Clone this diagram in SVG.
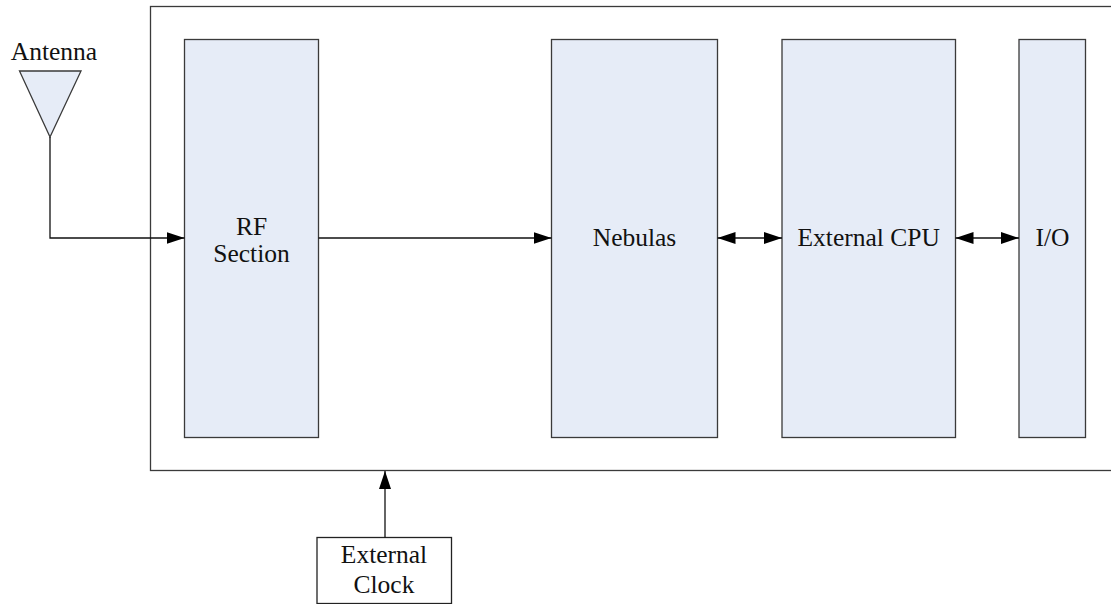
<svg xmlns="http://www.w3.org/2000/svg" width="1111" height="604" viewBox="0 0 1111 604">
<style>
.box{fill:#E6ECF7;stroke:#3a3a3a;stroke-width:1.3}
.frame{fill:#fff;stroke:#3a3a3a;stroke-width:1.3}
.wbox{fill:#fff;stroke:#222;stroke-width:1.3}
.lbl{font-family:"Liberation Serif","Times New Roman",serif;font-size:25.5px;fill:#111;text-anchor:middle}
.ln{fill:none;stroke:#111;stroke-width:1.3}
</style>
<defs>
<marker id="ah" markerUnits="userSpaceOnUse" markerWidth="20" markerHeight="14" refX="18" refY="6" orient="auto-start-reverse">
<path d="M0,0 L18,6 L0,12 Z" fill="#000"/>
</marker>
</defs>
<rect id="frame" class="frame" x="150.5" y="6.5" width="1000" height="464"/>
<g id="antenna">
<polygon points="19.5,71 81,71 50,137" class="box"/>
<text class="lbl" x="54" y="60">Antenna</text>
</g>
<g id="rf">
<rect class="box" x="184.5" y="39.5" width="134" height="398"/>
<text class="lbl" x="251.5" y="235">RF</text>
<text class="lbl" x="251.5" y="262">Section</text>
</g>
<g id="nebulas">
<rect class="box" x="551.5" y="39.5" width="166" height="398"/>
<text class="lbl" x="634.5" y="246">Nebulas</text>
</g>
<g id="cpu">
<rect class="box" x="782" y="39.5" width="173.5" height="398"/>
<text class="lbl" x="868.7" y="246">External CPU</text>
</g>
<g id="io">
<rect class="box" x="1019" y="39.5" width="66.5" height="398"/>
<text class="lbl" x="1052.5" y="246">I/O</text>
</g>
<g id="clock">
<rect class="wbox" x="317" y="537.5" width="134.5" height="66"/>
<text class="lbl" x="384" y="563">External</text>
<text class="lbl" x="384" y="593">Clock</text>
</g>
<g id="connectors">
<polyline class="ln" points="50,137 50,238 184.5,238" marker-end="url(#ah)"/>
<line class="ln" x1="318.5" y1="238" x2="551.5" y2="238" marker-end="url(#ah)"/>
<line class="ln" x1="717.5" y1="238" x2="782" y2="238" marker-start="url(#ah)" marker-end="url(#ah)"/>
<line class="ln" x1="955.5" y1="238" x2="1019" y2="238" marker-start="url(#ah)" marker-end="url(#ah)"/>
<line class="ln" x1="385" y1="537.5" x2="385" y2="471" marker-end="url(#ah)"/>
</g>
</svg>
